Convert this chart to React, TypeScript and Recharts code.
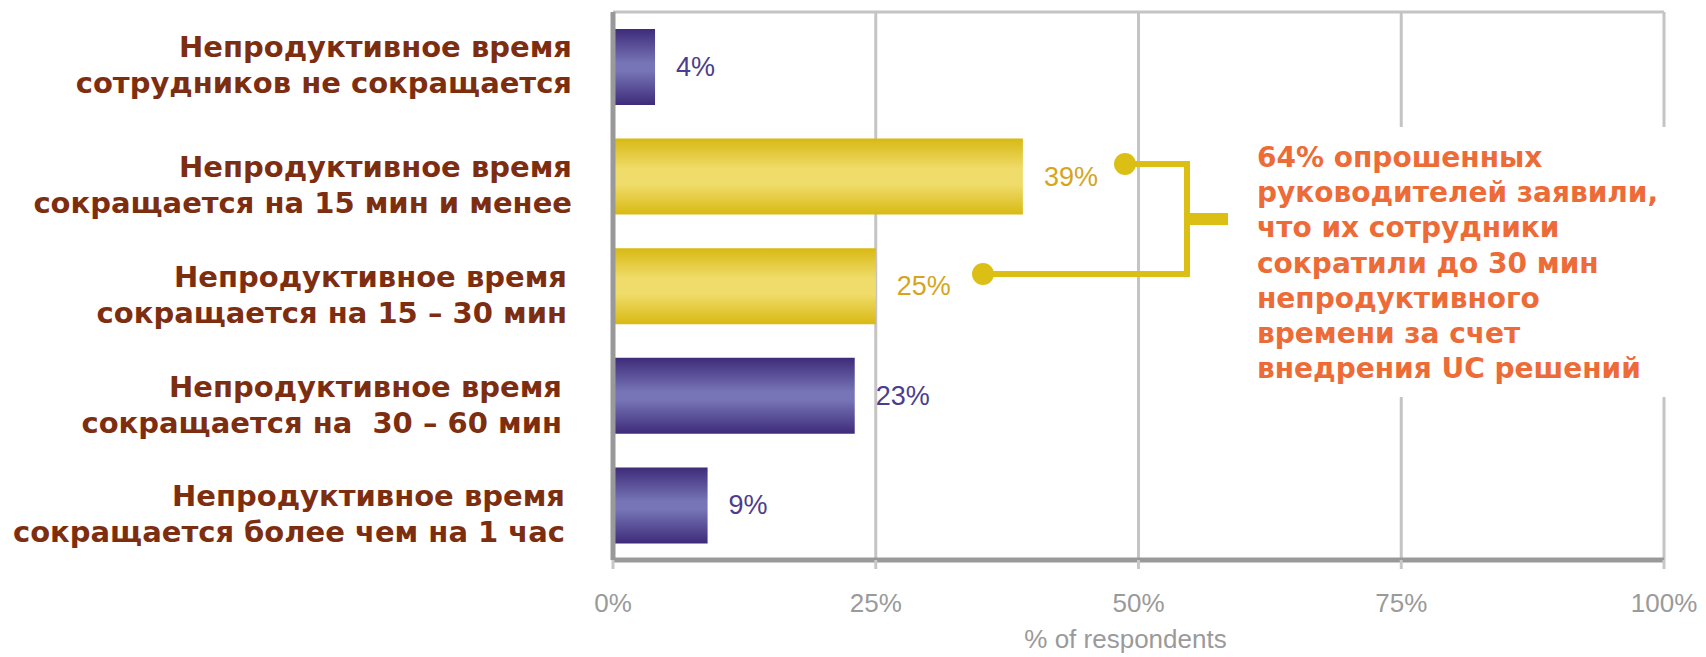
import React from "react";
import { BarChart, Bar, XAxis, YAxis, CartesianGrid, Cell, LabelList } from "recharts";

// категории (две строки на подпись)
const categoryLines = [
  ["Непродуктивное время", "сотрудников не сокращается"],
  ["Непродуктивное время", "сокращается на 15 мин и менее"],
  ["Непродуктивное время", "сокращается на 15 – 30 мин"],
  ["Непродуктивное время", "сокращается на  30 – 60 мин"],
  ["Непродуктивное время", "сокращается более чем на 1 час"],
];
const values = [4, 39, 25, 23, 9];
const highlighted = [false, true, true, false, false];
const xTicks = [0, 25, 50, 75, 100];
const noteLines = [
  "64% опрошенных",
  "руководителей заявили,",
  "что их сотрудники",
  "сократили до 30 мин",
  "непродуктивного",
  "времени за счет",
  "внедрения UC решений",
];

const data = values.map((v, i) => ({ name: categoryLines[i].join("|"), value: v, hl: highlighted[i] }));

const BROWN = "#7e2e10";
const ORANGE = "#ec6b37";
const GOLD = "#dcbf15";

// небольшие сдвиги подписей, как в оригинале
const labelDy = [-10, 1, 1, 1, 1];
const labelDx = [0, 0, -5, -10, -7];

function CategoryTick(props: any) {
  const { x, y, payload, index } = props;
  const lines = String(payload.value).split("|");
  const i = index ?? 0;
  return (
    <text
      x={x + labelDx[i]}
      y={y}
      textAnchor="end"
      fill={BROWN}
      fontFamily="DejaVu Sans"
      fontWeight="bold"
      fontSize={29}
      style={{ whiteSpace: "pre" }}
    >
      {lines.map((l, k) => (
        <tspan key={k} x={x + labelDx[i]} y={y + labelDy[i] + k * 36}>
          {l}
        </tspan>
      ))}
    </text>
  );
}

function ValueLabel(props: any) {
  const { x, y, width, height, value, index } = props;
  const i = index ?? values.indexOf(value);
  return (
    <text
      x={x + width + 21}
      y={y + height / 2}
      dominantBaseline="central"
      fill={highlighted[i] ? "#d6a51c" : "#4b3d8f"}
      fontFamily="Liberation Sans"
      fontSize={27}
    >
      {value}%
    </text>
  );
}

export default function App() {
  return (
    <div style={{ position: "absolute", left: 0, top: 0, width: 1706, height: 657, background: "#fff" }}>
      <BarChart
        width={1706}
        height={657}
        data={data}
        layout="vertical"
        margin={{ top: 12, right: 42, left: 0, bottom: 0 }}
      >
        <defs>
          <linearGradient id="gradPurple" x1="0" y1="0" x2="0" y2="1">
            <stop offset="0" stopColor="#3e2b79" />
            <stop offset="0.45" stopColor="#7775b7" />
            <stop offset="0.55" stopColor="#7775b7" />
            <stop offset="1" stopColor="#3e2b79" />
          </linearGradient>
          <linearGradient id="gradGold" x1="0" y1="0" x2="0" y2="1">
            <stop offset="0" stopColor="#d8b913" />
            <stop offset="0.4" stopColor="#f0dc6a" />
            <stop offset="0.6" stopColor="#f0dc6a" />
            <stop offset="1" stopColor="#d8b913" />
          </linearGradient>
        </defs>
        <CartesianGrid
          stroke="#c4c4c4"
          strokeWidth={3}
          horizontalCoordinatesGenerator={(p: any) => [p?.offset?.top ?? 12]}
        />
        <XAxis
          type="number"
          domain={[0, 100]}
          ticks={xTicks}
          interval={0}
          tickFormatter={(v) => `${v}%`}
          axisLine={{ stroke: "#999", strokeWidth: 5 }}
          tickLine={{ stroke: "#c8c8c8", strokeWidth: 3 }}
          tickSize={9}
          tickMargin={25}
          height={97}
          tick={{ fill: "#9a9a9a", fontSize: 26, fontFamily: "Liberation Sans" }}
          label={{
            value: "% of respondents",
            position: "insideBottom",
            offset: 9,
            dx: -13,
            fill: "#9a9a9a",
            fontSize: 26,
            fontFamily: "Liberation Sans",
          }}
        />
        <YAxis
          type="category"
          dataKey="name"
          width={613}
          interval={0}
          axisLine={{ stroke: "#999", strokeWidth: 5 }}
          tickLine={false}
          tickSize={0}
          tickMargin={41}
          tick={<CategoryTick />}
        />
        <Bar dataKey="value" barSize={76} isAnimationActive={false}>
          {data.map((d, i) => (
            <Cell key={i} fill={d.hl ? "url(#gradGold)" : "url(#gradPurple)"} />
          ))}
          <LabelList dataKey="value" position="right" content={<ValueLabel />} />
        </Bar>
      </BarChart>

      <svg
        width={1706}
        height={657}
        style={{ position: "absolute", left: 0, top: 0, pointerEvents: "none" }}
      >
        <rect x={1230} y={127} width={460} height={270} fill="#fff" />
        <polyline points="1125,164 1187,164 1187,274 983,274" fill="none" stroke={GOLD} strokeWidth={6} />
        <line x1={1187} y1={219} x2={1228} y2={219} stroke={GOLD} strokeWidth={12} />
        <circle cx={1125} cy={164} r={11} fill={GOLD} />
        <circle cx={983} cy={274} r={11} fill={GOLD} />
        <text fill={ORANGE} fontFamily="DejaVu Sans" fontWeight="bold" fontSize={28}>
          {noteLines.map((l, i) => (
            <tspan key={i} x={1257} y={167 + 35.2 * i}>
              {l}
            </tspan>
          ))}
        </text>
      </svg>
    </div>
  );
}
